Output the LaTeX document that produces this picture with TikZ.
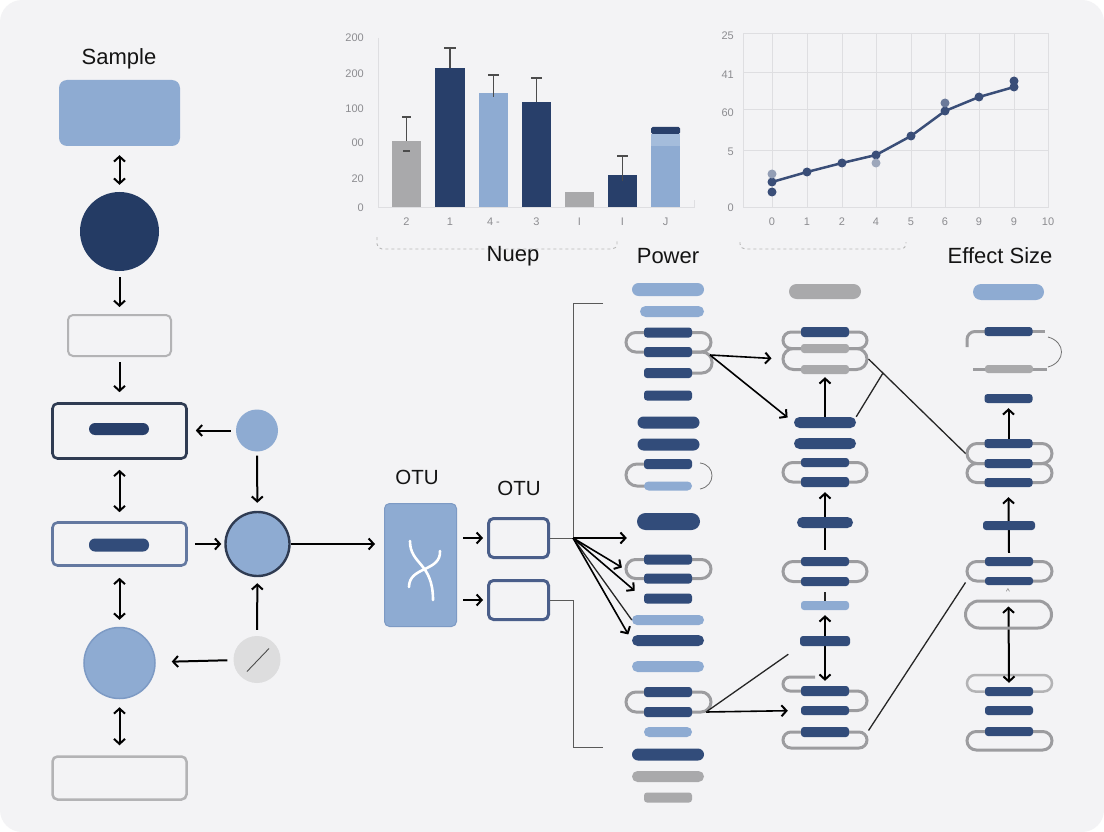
\documentclass[tikz,border=0pt]{standalone}
\usepackage{fontspec}
\setmainfont{Liberation Sans}
\usetikzlibrary{arrows.meta}
\definecolor{navy}{HTML}{324C7A}
\definecolor{barnavy}{HTML}{283F6A}
\definecolor{deepnavy}{HTML}{243B64}
\definecolor{sky}{HTML}{8EABD2}
\definecolor{skyedge}{HTML}{7D9AC4}
\definecolor{steel}{HTML}{6378A0}
\definecolor{slate}{HTML}{2F3B52}
\definecolor{otuedge}{HTML}{4A5E8A}
\definecolor{pillgray}{HTML}{A9A9AB}
\definecolor{loopgray}{HTML}{9C9C9F}
\definecolor{softgray}{HTML}{B3B3B5}
\definecolor{dotgray}{HTML}{DDDDDE}
\definecolor{paper}{HTML}{F3F3F5}
\definecolor{gridline}{HTML}{DEDEE1}
\definecolor{numgray}{HTML}{8C8C90}
\definecolor{plotline}{HTML}{3A4E78}
\pgfdeclarelayer{bg}
\pgfdeclarelayer{wires}
\pgfsetlayers{bg,wires,main}
\tikzset{
  >={Straight Barb[length=5pt,width=11pt,line width=2pt]},
  arrow/.style={->, line width=2pt, draw=black},
  fanarrow/.style={->, line width=1.6pt, draw=black},
  link/.style={<->, line width=2pt, draw=black},
  wire/.style={line width=1.3pt, draw=black!85},
  thinwire/.style={line width=1pt, draw=black!65},
  heading/.style={font=\fontsize{22}{26}\selectfont, text=black!92, inner sep=0pt},
  otulabel/.style={heading, font=\fontsize{20.5}{24}\selectfont},
  axisnum/.style={font=\fontsize{11}{13}\selectfont, text=numgray, inner sep=0pt},
  frame/.style={draw, rounded corners=5pt, fill=paper, inner sep=0pt},
  pill/.style={fill=navy, rounded corners=3pt, minimum width=48pt,
    minimum height=10pt, inner sep=0pt},
  widepill/.style={pill, minimum width=62pt, minimum height=11pt, rounded corners=5.5pt},
  longpill/.style={pill, minimum width=72pt, minimum height=11pt, rounded corners=5.5pt},
  capsule/.style={draw=loopgray, line width=3pt, inner sep=0pt},
  loopline/.style={draw=loopgray, line width=3pt},
  errbar/.style={draw=black!70, line width=1.3pt},
  brace/.style={draw=black!28, dashed, line width=0.9pt, rounded corners=5pt}
}
\begin{document}
\begin{tikzpicture}[x=1pt, y=-1pt]
  \useasboundingbox (0,0) rectangle (1104,832);
  \begin{pgfonlayer}{bg}
    \fill[white] (0,0) rectangle (1104,832);
    \fill[paper, rounded corners=22pt] (0,0) rectangle (1104,832);
  \end{pgfonlayer}

  \draw[gridline, line width=0.8pt] (378,38) -- (378,207) -- (694,207) -- (694,200);
  \fill[pillgray] (392,141) rectangle (421,207);
  \fill[barnavy] (435,68) rectangle (465,207);
  \fill[sky] (479,93) rectangle (508,207);
  \fill[barnavy] (522,102) rectangle (551,207);
  \fill[pillgray] (565,192) rectangle (594,207);
  \fill[barnavy] (608,175) rectangle (637,207);
  \fill[sky] (651,146) rectangle (680,207);
  \fill[sky!80!white] (651,134) rectangle (680,146);
  \fill[barnavy, rounded corners=1.5pt] (651,127) rectangle (680,134);
  \draw[errbar] (406.5,141) -- (406.5,117) (402,117) -- (411,117);
  \draw[errbar] (403,151) -- (410,151);
  \draw[errbar] (450,68) -- (450,48) (444,48) -- (456,48);
  \draw[errbar] (493.5,97) -- (493.5,75) (488,75) -- (499,75);
  \draw[errbar] (536.5,102) -- (536.5,78) (531,78) -- (542,78);
  \draw[errbar] (622.5,181) -- (622.5,156) (617,156) -- (628,156);
  \foreach \v/\yy [count=\k] in {200/38, 200/74, 100/109, 00/143, 20/179, 0/208}
    \node[axisnum, anchor=east] (by\k) at (364,\yy) {\v};
  \foreach \v/\xx [count=\k] in {2/406.5, 1/450, 4 -/493.5, 3/536.5, I/579.5, I/622.5, J/665.5}
    \node[axisnum] (bx\k) at (\xx,222) {\v};
  \draw[brace] (377,237) -- (377,249) -- (617,249) -- (617,240);

  \draw[gridline, line width=0.8pt] (743,33) rectangle (1048,207);
  \foreach \gx in {772,807,842,876,911,945,979,1014}
    \draw[gridline, line width=0.8pt] (\gx,33) -- (\gx,207);
  \foreach \gy in {72,109,150}
    \draw[gridline, line width=0.8pt] (743,\gy) -- (1048,\gy);
  \foreach \v/\yy [count=\k] in {25/36, 41/75, 60/113, 5/152, 0/208}
    \node[axisnum, anchor=east] (ly\k) at (734,\yy) {\v};
  \foreach \v/\xx [count=\k] in {0/772, 1/807, 2/842, 4/876, 5/911, 6/945, 9/979, 9/1014, 10/1048}
    \node[axisnum] (lx\k) at (\xx,222) {\v};
  \draw[plotline, line width=2.5pt, line join=round]
    (772,182) -- (807,172) -- (842,163) -- (876,155) -- (911,136) -- (945,111) -- (979,97) -- (1014,87);
  \foreach \px/\py in {772/182, 807/172, 842/163, 876/155, 911/136, 945/111, 979/97, 1014/87, 772/192, 1014/81}
    \fill[plotline] (\px,\py) circle[radius=4.5pt];
  \fill[plotline!55] (772,174) circle[radius=4.5pt];
  \fill[plotline!50] (876,163) circle[radius=4.5pt];
  \fill[plotline!75] (945,103) circle[radius=4.5pt];
  \draw[brace] (740,242) -- (740,249) -- (906,249) -- (906,242);

  \node[heading] (nuep) at (513,256) {Nuep};
  \node[heading] (power) at (668,256) {Power};
  \node[heading] (effect) at (1000,256) {Effect Size};
  \node[heading] (samplelbl) at (119,59) {Sample};

  \node[fill=sky, rounded corners=8pt, minimum width=121pt, minimum height=66pt] (sample) at (119.5,113) {};
  \node[circle, fill=deepnavy, minimum size=79pt, inner sep=0pt] (core) at (119.5,231.5) {};
  \node[frame, draw=softgray, line width=2pt, minimum width=103pt, minimum height=41pt] (prep) at (119.5,335.5) {};
  \node[frame, draw=slate, line width=2.6pt, minimum width=134pt, minimum height=55pt] (filt) at (119.5,431) {};
  \node[pill, fill=barnavy, minimum width=60pt, minimum height=12pt, rounded corners=6pt] (filtbar) at (119,429) {};
  \node[frame, draw=steel, line width=2.6pt, minimum width=134pt, minimum height=43pt] (merge) at (119.5,544) {};
  \node[pill, minimum width=60pt, minimum height=13pt, rounded corners=6pt] (mergebar) at (119,545) {};
  \node[circle, fill=sky, draw=skyedge, line width=1.5pt, minimum size=71pt, inner sep=0pt] (pool) at (119.5,663) {};
  \node[frame, draw=softgray, line width=2.5pt, minimum width=134pt, minimum height=43pt] (rep) at (119.5,778) {};

  \node[circle, fill=sky, minimum size=42pt, inner sep=0pt] (seed) at (257,430.5) {};
  \node[circle, fill=sky, draw=slate, line width=2.4pt, minimum size=64pt, inner sep=0pt] (hubc) at (257.5,544) {};
  \node[circle, fill=dotgray, minimum size=47pt, inner sep=0pt] (mark) at (257,659.5) {};
  \draw[line width=0.9pt, black!70] ([shift={(-10pt,-12pt)}]mark.center) -- ([shift={(12pt,11pt)}]mark.center);

  \draw[link, shorten <=9pt, shorten >=7pt] (sample) -- (core);
  \draw[arrow, shorten <=6pt, shorten >=7pt] (core) -- (prep);
  \draw[arrow, shorten <=5pt, shorten >=10pt] (prep) -- (filt);
  \draw[link, shorten <=10pt, shorten >=9pt] (filt) -- (merge);
  \draw[link, shorten <=11pt, shorten >=7pt] (merge) -- (pool);
  \draw[link, shorten <=8pt, shorten >=10pt] (pool) -- (rep);
  \draw[arrow, shorten <=5pt, shorten >=8pt] (seed) -- (filt.east |- seed);
  \draw[arrow, shorten <=4pt, shorten >=8pt] (seed) -- (hubc);
  \draw[arrow, shorten <=7pt, shorten >=3pt] (merge.east |- hubc) -- (hubc);
  \draw[arrow, shorten <=6pt, shorten >=6pt] (mark) -- (hubc);
  \draw[arrow, shorten <=6pt, shorten >=16pt] (mark) -- (pool);

  \node[otulabel] (otulbl) at (417,477) {OTU};
  \node[fill=sky, draw=skyedge, line width=1pt, rounded corners=5pt, minimum width=72pt, minimum height=123pt] (otu) at (420.5,565) {};
  \draw[white, line width=2.6pt, line cap=round] (410,541) .. controls (410,565) and (433,562) .. (433,600);
  \draw[white, line width=2.6pt, line cap=round] (440,551) .. controls (441,572) and (409,566) .. (409,587);
  \node[otulabel] (otulblB) at (519,488) {OTU};
  \node[frame, draw=otuedge, line width=3pt, minimum width=60pt, minimum height=39pt] (otuA) at (518.5,538) {};
  \node[frame, draw=otuedge, line width=3pt, minimum width=60pt, minimum height=39pt] (otuB) at (518.5,600) {};
  \draw[arrow, shorten >=9pt] (hubc) -- (otu.west |- hubc);
  \draw[arrow, shorten <=6pt, shorten >=4pt] (otu.east |- otuA.west) -- (otuA.west);
  \draw[arrow, shorten <=6pt, shorten >=4pt] (otu.east |- otuB.west) -- (otuB.west);

  \node[longpill, fill=sky, minimum height=13pt, rounded corners=6.5pt] (a1) at (668,289.5) {};
  \node[pill, fill=sky, minimum width=64pt, minimum height=11pt, rounded corners=5.5pt] (a2) at (672,311.5) {};
  \node[pill] (a3) at (668,332.5) {};
  \node[pill] (a4) at (668,352) {};
  \node[pill] (a5) at (668,373) {};
  \node[pill] (a6) at (668,395.5) {};
  \node[widepill, minimum height=12pt, rounded corners=6pt] (a7) at (668.5,422.5) {};
  \node[widepill, minimum height=12pt, rounded corners=6pt] (a8) at (668.5,444.5) {};
  \node[pill] (a9) at (668,464) {};
  \node[pill, fill=sky, minimum height=9pt, rounded corners=4.5pt] (a10) at (668,486) {};
  \node[widepill, minimum width=63pt, minimum height=17pt, rounded corners=8.5pt] (a11) at (668.5,521.5) {};
  \node[pill] (a12) at (668,559.5) {};
  \node[pill] (a13) at (668,578.5) {};
  \node[pill] (a14) at (668,598.5) {};
  \node[longpill, fill=sky, minimum height=10pt, rounded corners=5pt] (a15) at (668,620) {};
  \node[longpill] (a16) at (668,640.5) {};
  \node[longpill, fill=sky] (a17) at (668,666.5) {};
  \node[pill] (a18) at (668,692) {};
  \node[pill] (a19) at (668,712) {};
  \node[pill, fill=sky, rounded corners=5pt] (a20) at (668,732) {};
  \node[longpill, minimum height=12pt, rounded corners=6pt] (a21) at (668,754.5) {};
  \node[longpill, fill=pillgray] (a22) at (668,776.5) {};
  \node[pill, fill=pillgray] (a23) at (668,797.5) {};

  \node[longpill, fill=pillgray, minimum height=15pt, rounded corners=7.5pt] (b1) at (825,291.5) {};
  \node[pill] (b2) at (825,332) {};
  \node[pill, fill=pillgray, minimum height=9pt] (b3) at (825,348.5) {};
  \node[pill, fill=pillgray, minimum height=9pt] (b4) at (825,369.5) {};
  \node[widepill] (b5) at (825,422.5) {};
  \node[widepill] (b6) at (825,443.5) {};
  \node[pill, minimum height=9pt] (b7) at (825,462.5) {};
  \node[pill] (b8) at (825,482) {};
  \node[widepill, minimum width=56pt] (b9) at (825,522.5) {};
  \node[pill, minimum height=9pt] (b10) at (825,561.5) {};
  \node[pill, minimum height=9pt] (b11) at (825,581.5) {};
  \node[pill, fill=sky, minimum height=9pt] (b12) at (825,605.5) {};
  \node[pill, minimum width=50pt] (b13) at (825,641) {};
  \node[pill] (b14) at (825,691) {};
  \node[pill, minimum height=9pt] (b15) at (825,710.5) {};
  \node[pill] (b16) at (825,732) {};

  \node[longpill, fill=sky, minimum width=71pt, minimum height=16pt, rounded corners=8pt] (c1) at (1008.5,292) {};
  \node[pill, minimum height=9pt] (c2) at (1008.5,331.5) {};
  \node[pill, fill=pillgray, minimum height=8pt] (c3) at (1009,369) {};
  \node[pill, minimum height=9pt] (c4) at (1008.5,398.5) {};
  \node[pill, minimum height=9pt] (c5) at (1008.5,443.5) {};
  \node[pill, minimum height=9pt] (c6) at (1008.5,463.5) {};
  \node[pill, minimum height=9pt] (c7) at (1008.5,482.5) {};
  \node[pill, minimum width=52pt, minimum height=9pt] (c8) at (1009,525.5) {};
  \node[pill, minimum height=9pt] (c9) at (1009,561.5) {};
  \node[pill, minimum height=8pt] (c10) at (1009,581) {};
  \node[capsule, minimum width=86pt, minimum height=27pt, rounded corners=13.5pt] (c11) at (1008.5,614.5) {};
  \node[axisnum, text=black!60, font=\fontsize{8}{9}\selectfont] (caret) at (1008,592) {\textasciicircum};
  \node[pill, minimum height=9pt] (c12) at (1009,691.5) {};
  \node[pill, minimum height=9pt] (c13) at (1009,710.5) {};
  \node[pill, minimum height=9pt] (c14) at (1009,731.5) {};

  \begin{pgfonlayer}{wires}
    \node[capsule, minimum width=85pt, minimum height=19.5pt, rounded corners=9.75pt] (la34) at (668.5,342.25) {};
    \node[capsule, minimum width=85pt, minimum height=19pt, rounded corners=9.5pt] (la1213) at (668.5,569) {};
    \node[capsule, minimum width=85pt, minimum height=20pt, rounded corners=10pt] (la1819) at (668.5,702) {};
    \draw[loopline, rounded corners=10pt] (690,352) -- (712,352) -- (712,373) -- (690,373);
    \draw[loopline, rounded corners=11pt] (650,464) -- (626,464) -- (626,486) -- (650,486);
    \draw[black!55, line width=0.8pt] (700,463) .. controls (716,465) and (716,486) .. (700,489);

    \node[capsule, minimum width=84pt, minimum height=16.5pt, rounded corners=8.25pt] (lb23) at (825,340.25) {};
    \node[capsule, minimum width=84pt, minimum height=21pt, rounded corners=10.5pt] (lb34) at (825,359) {};
    \node[capsule, minimum width=84pt, minimum height=19.5pt, rounded corners=9.75pt] (lb78) at (825,472.25) {};
    \node[capsule, minimum width=84pt, minimum height=20pt, rounded corners=10pt] (lb1011) at (825,571.5) {};
    \node[capsule, minimum width=84pt, minimum height=16pt, rounded corners=8pt] (lb16) at (825,740) {};
    \draw[loopline, rounded corners=7pt] (815,677) -- (783,677) -- (783,691) -- (810,691);
    \draw[loopline, rounded corners=9.5pt] (840,691) -- (867,691) -- (867,710.5) -- (840,710.5);

    \draw[loopline, rounded corners=8pt] (990,331.5) -- (967,331.5) -- (967,347);
    \draw[loopline, line width=2.5pt] (1025,331.5) -- (1045,331.5);
    \draw[loopline, line width=3pt] (973,369) -- (1047,369);
    \draw[black!55, line width=0.8pt] (1048,337) .. controls (1066,342) and (1066,362) .. (1048,367);
    \node[capsule, minimum width=85pt, minimum height=20pt, rounded corners=10pt] (lc56) at (1009.5,453.5) {};
    \node[capsule, minimum width=85pt, minimum height=19pt, rounded corners=9.5pt] (lc67) at (1009.5,473) {};
    \node[capsule, minimum width=85pt, minimum height=19.5pt, rounded corners=9.75pt] (lc910) at (1009.5,571.25) {};
    \node[capsule, draw=softgray, line width=2.5pt, minimum width=85pt, minimum height=16.5pt, rounded corners=8.25pt] (lc12) at (1009.5,683.25) {};
    \node[capsule, minimum width=85pt, minimum height=18.5pt, rounded corners=9.25pt] (lc14) at (1009.5,740.75) {};

    \draw[arrow] (b5.north) -- ([yshift=-3pt]b4.south);
    \draw[arrow] ([yshift=7pt]b10.north) -- ([yshift=-5pt]b8.south);
    \draw[wire, shorten <=6pt] (b11.south) -- (b12.north);
    \draw[link] ([yshift=-5pt]b12.south) -- ([yshift=5pt]b14.north);
    \draw[arrow] (c5.north) -- ([yshift=-5pt]c4.south);
    \draw[arrow] ([yshift=4pt]c9.north) -- ([yshift=-10pt]c7.south);
    \draw[link] ([yshift=-7pt]c11.north) -- ([yshift=4pt]c12.north);
  \end{pgfonlayer}

  \coordinate (hub) at (573,538);
  \coordinate (brtop) at (603,303);
  \coordinate (brbot) at (603,747);
  \draw[thinwire] (brtop) -| (hub);
  \draw[thinwire] (otuA.east) -- (hub);
  \draw[thinwire] (otuB.east) -| (hub |- brbot) -- (brbot);
  \draw[fanarrow, shorten >=10pt] (hub) -- (hub -| a11.west);
  \draw[fanarrow, shorten >=3pt] (hub) -- (la1213.west);
  \draw[fanarrow, shorten >=12pt] (hub) -- (a14.west);
  \draw[wire] (hub) -- (a15.west);
  \draw[fanarrow, shorten >=7pt] (hub) -- (a16.west);

  \coordinate (tapA) at (710,355);
  \coordinate (tapB) at (706,712);
  \coordinate (join) at (883,373);
  \draw[fanarrow, shorten >=10pt] (tapA) -- (lb34.west);
  \draw[fanarrow, shorten >=8pt] (tapA) -- (b5.west);
  \draw[wire] (b5.north east) -- (join);
  \draw[wire] (lb34.east) -- (lc56.west);
  \draw[fanarrow, shorten >=13pt] (tapB) -- (b15.west);
  \draw[wire, shorten >=14pt] (tapB) -- (b13.south west);
  \draw[wire] (lb16.north east) -- (lc910.south west);
\end{tikzpicture}
\end{document}
